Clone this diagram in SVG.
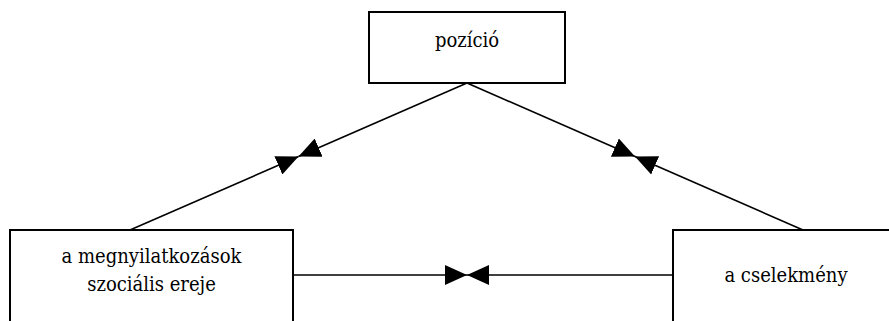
<svg xmlns="http://www.w3.org/2000/svg" width="889" height="321" viewBox="0 0 889 321">
  <style>
    .box { fill: #ffffff; stroke: #000000; stroke-width: 2; }
    .label { font-family: 'DejaVu Serif', serif; font-stretch: condensed; font-size: 20px; fill: #000000; text-anchor: middle; }
    .link { fill: none; stroke: #000000; stroke-width: 1.6; marker-end: url(#head); }
  </style>
  <defs>
    <marker id="head" markerUnits="userSpaceOnUse" markerWidth="22" markerHeight="20" refX="22" refY="10" orient="auto">
      <path d="M0,0 L22,10 L0,20 Z" fill="#000000"/>
    </marker>
  </defs>
  <rect width="889" height="321" fill="#ffffff"/>

  <g id="connectors">
    <line class="link" x1="130" y1="230" x2="298.5" y2="156.5"/>
    <line class="link" x1="467" y1="83" x2="298.5" y2="156.5"/>
    <line class="link" x1="803" y1="230" x2="635" y2="156.5"/>
    <line class="link" x1="467" y1="83" x2="635" y2="156.5"/>
    <line class="link" x1="293" y1="275" x2="467" y2="275"/>
    <line class="link" x1="673" y1="275" x2="467" y2="275"/>
  </g>

  <g id="pozicio">
    <rect class="box" x="369" y="12" width="196" height="71"/>
    <text class="label" x="467" y="47">pozíció</text>
  </g>

  <g id="megnyilatkozasok">
    <rect class="box" x="10" y="230" width="283" height="120"/>
    <text class="label" x="151.5" y="263">a megnyilatkozások</text>
    <text class="label" x="151.5" y="291">szociális ereje</text>
  </g>

  <g id="cselekmeny">
    <rect class="box" x="673" y="230" width="226" height="120"/>
    <text class="label" x="786" y="282">a cselekmény</text>
  </g>
</svg>
